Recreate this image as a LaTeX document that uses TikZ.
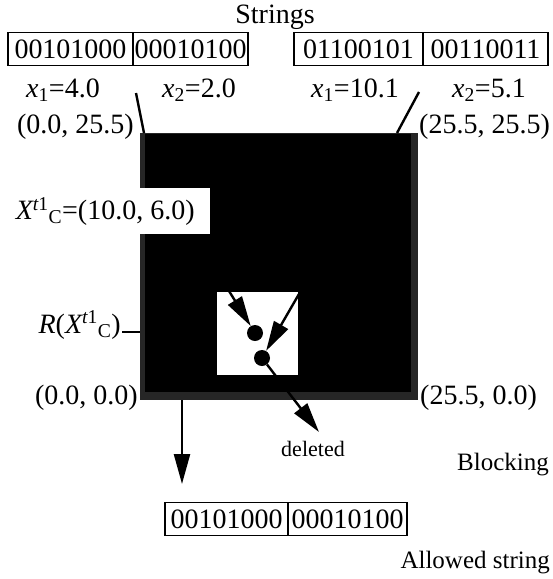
\documentclass[tikz,border=0pt]{standalone}
\usepackage{fontspec}
\setmainfont{Liberation Serif}
\usetikzlibrary{arrows.meta}
\begin{document}
\begin{tikzpicture}[x=1pt,y=-1pt,
  lab/.style={inner sep=0pt, font=\fontsize{28}{31}\selectfont},
  small/.style={inner sep=0pt, font=\fontsize{22}{24}\selectfont},
  mid/.style={inner sep=0pt, font=\fontsize{25}{28}\selectfont},
  cell/.style={draw, line width=1.6pt, minimum height=33pt, inner sep=0pt, font=\fontsize{28}{31}\selectfont},
  ln/.style={line width=2.4pt},
  arr/.style={line width=2.4pt, -{Triangle[length=30pt,width=16pt]}}]
\useasboundingbox (0,0) rectangle (553,579);
% title
\node[lab] (title) at (275,17) {Strings};
% top strings
\node[cell, minimum width=125pt] (a1) at (70.5,49) {00101000};
\node[cell, minimum width=115pt] (a2) at (190.5,49) {00010100};
\node[cell, minimum width=129pt] (b1) at (358.5,49) {01100101};
\node[cell, minimum width=125pt] (b2) at (485.5,49) {00110011};
\node[lab] (ax1) at (63,90) {{\itshape x}\textsubscript{1}=4.0};
\node[lab] (ax2) at (199,90) {{\itshape x}\textsubscript{2}=2.0};
\node[lab] (bx1) at (355,90) {{\itshape x}\textsubscript{1}=10.1};
\node[lab] (bx2) at (489,90) {{\itshape x}\textsubscript{2}=5.1};
% search space
\node[fill=black!85, minimum width=278pt, minimum height=267pt, inner sep=0pt, anchor=north west] (sq) at (140,133) {};
\node[fill=black, minimum width=266pt, minimum height=258pt, inner sep=0pt, anchor=north west] (sqin) at (145,134) {};
\node[lab, anchor=east] (c00) at (134,127) {(0.0, 25.5)};
\node[lab, anchor=west] (c10) at (419,127) {(25.5, 25.5)};
\node[lab, anchor=east] (c01) at (138,398) {(0.0, 0.0)};
\node[lab, anchor=west] (c11) at (420,398) {(25.5, 0.0)};
% lines from strings
\coordinate (la) at (136,93);
\coordinate (lb) at (144,133);
\coordinate (ra) at (419,92);
\coordinate (rb) at (397,133);
\draw[ln] (la) -- (lb);
\draw[ln] (ra) -- (rb);
% center label
\node[lab, fill=white, anchor=north west, minimum height=46pt, minimum width=210pt, inner xsep=14pt] (xc) at (0,188) {{\itshape X}\textsuperscript{{\itshape t}1}\textsubscript{C}=(10.0, 6.0)};
% blocked region
\node[fill=white, minimum width=81pt, minimum height=83pt, inner sep=0pt, anchor=north west] (blk) at (217,292) {};
\node[lab, anchor=east] (rl) at (121,325) {{\itshape R}({\itshape X}\textsuperscript{{\itshape t}1}\textsubscript{C})};
\coordinate (ta) at (122,332);
\coordinate (tb) at (140,332);
\draw[ln] (ta) -- (tb);
\node[circle, fill=black, minimum size=16pt, inner sep=0pt] (d1) at (255,333) {};
\node[circle, fill=black, minimum size=16pt, inner sep=0pt] (d2) at (262,358) {};
\coordinate (p1) at (229,291);
\coordinate (p2) at (299,294);
\draw[arr] (p1) -- (d1);
\draw[arr] (p2) -- (d2);
\coordinate (del) at (319,432);
\draw[arr] (d2) -- (del);
\node[small] (deleted) at (313,449) {deleted};
\node[mid, anchor=east] (blocking) at (549,465) {Blocking};
% allowed
\coordinate (q0) at (182,400);
\coordinate (q1) at (182,484);
\draw[arr] (q0) -- (q1);
\node[cell, minimum width=123pt] (c1) at (226.5,519) {00101000};
\node[cell, minimum width=119pt] (c2) at (347.5,519) {00010100};
\node[mid, anchor=east] (allowed) at (550,563) {Allowed string};
\end{tikzpicture}
\end{document}
